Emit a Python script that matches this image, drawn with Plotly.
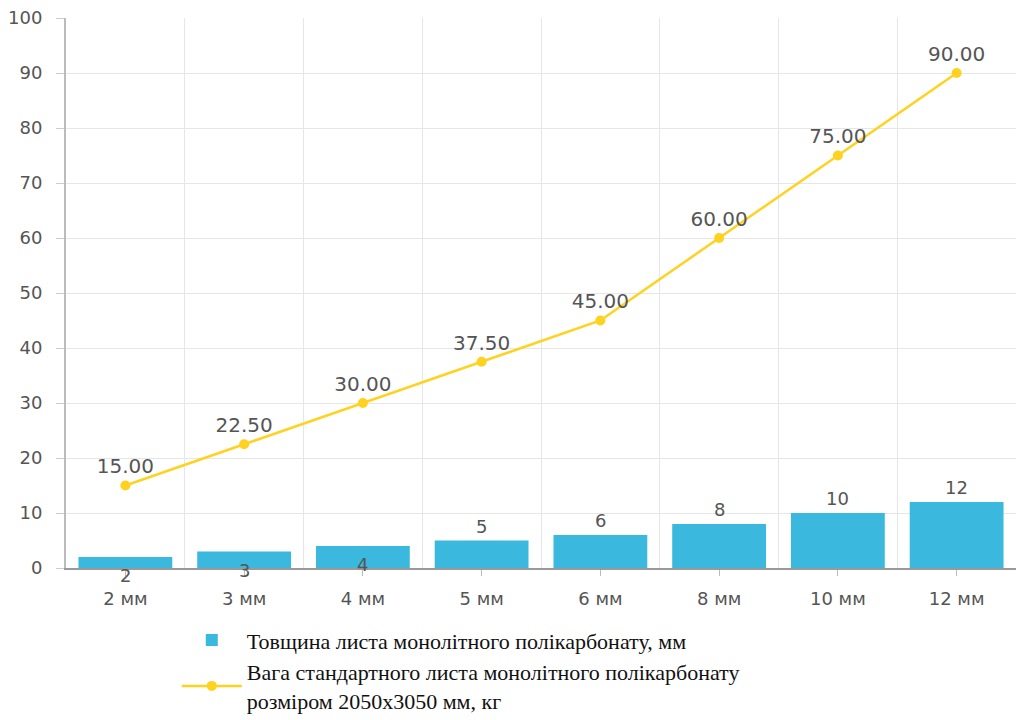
import plotly.graph_objects as go

categories = ["2 мм", "3 мм", "4 мм", "5 мм", "6 мм", "8 мм", "10 мм", "12 мм"]
thickness = [2, 3, 4, 5, 6, 8, 10, 12]
weight = [15.00, 22.50, 30.00, 37.50, 45.00, 60.00, 75.00, 90.00]
bar_name = "Товщина листа монолітного полікарбонату, мм"
line_name = "Вага стандартного листа монолітного полікарбонату<br>розміром 2050x3050 мм, кг"

BAR_COLOR = "#3BB8DE"
LINE_COLOR = "#FFD21F"
TXT = "#555555"
FONT = "DejaVu Sans"

xs = list(range(len(categories)))

fig = go.Figure()
fig.add_trace(go.Bar(
    x=xs, y=thickness, name=bar_name, width=0.79,
    marker=dict(color=BAR_COLOR, line=dict(width=0)),
))
fig.add_trace(go.Scatter(
    x=xs, y=weight, name=line_name, mode="lines+markers+text",
    line=dict(color=LINE_COLOR, width=2.5),
    marker=dict(color=LINE_COLOR, size=10),
    text=[f"{v:.2f}" for v in weight], textposition="top center",
    textfont=dict(family=FONT, size=20, color=TXT),
))

annotations = []
for x, v in zip(xs, thickness):
    small = v < 5
    annotations.append(dict(
        x=x, y=v, xref="x", yref="y", text=str(v), showarrow=False,
        yanchor="top" if small else "bottom",
        yshift=-6 if small else 2,
        font=dict(family=FONT, size=18, color=TXT),
    ))

fig.update_layout(
    width=1016, height=720,
    margin=dict(l=66, r=0, t=18, b=152, autoexpand=False),
    paper_bgcolor="white", plot_bgcolor="white",
    annotations=annotations,
    showlegend=True,
    legend=dict(
        xref="container", yref="container",
        x=0.174, y=0.14, xanchor="left", yanchor="top",
        orientation="v", font=dict(family="Liberation Serif", size=22, color="#111111"),
        tracegroupgap=0, itemwidth=60, bgcolor="rgba(0,0,0,0)",
    ),
    xaxis=dict(
        range=[-0.5, len(categories) - 0.5],
        tickmode="array", tickvals=xs, ticktext=categories,
        showgrid=False, ticks="outside", ticklen=6, tickcolor="#bbbbbb",
        ticklabelstandoff=8,
        showline=True, linecolor="#999999", linewidth=1.5,
        tickfont=dict(family=FONT, size=18, color=TXT),
        minor=dict(tickvals=[x + 0.5 for x in xs[:-1]], showgrid=True,
                   gridcolor="#e6e6e6", gridwidth=1, ticks=""),
        zeroline=False, fixedrange=True,
    ),
    yaxis=dict(
        range=[0, 100], dtick=10, tick0=0,
        showgrid=True, gridcolor="#e6e6e6", gridwidth=1,
        ticks="outside", ticklen=8, tickcolor="#cccccc",
        ticklabelstandoff=10,
        showline=True, linecolor="#bbbbbb", linewidth=2,
        tickfont=dict(family=FONT, size=18, color=TXT),
        zeroline=False,
    ),
)

fig.write_html("out.html")
